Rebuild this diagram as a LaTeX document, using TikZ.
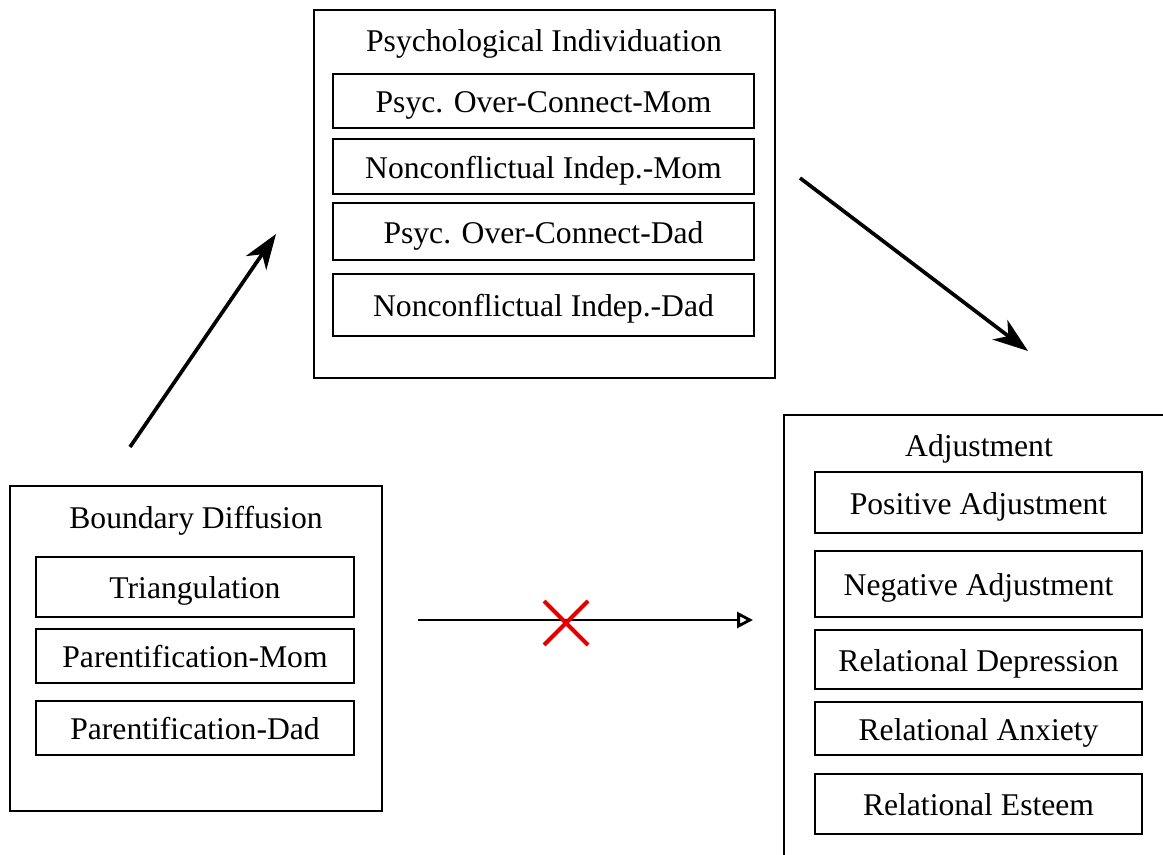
\documentclass[tikz,border=0pt]{standalone}
\usepackage{fontspec}
\setmainfont{Liberation Serif}
\usetikzlibrary{arrows.meta, calc}

\tikzset{
	outerbox/.style = {draw, line width=1.1pt},
	innerbox/.style = {draw, line width=1.1pt, inner sep=0pt, font=\fontsize{18}{20}\selectfont,
		text height=16pt, text depth=2.5pt},
	titletext/.style = {font=\fontsize{18}{20}\selectfont, text height=16pt, text depth=2.5pt},
	pathline/.style = {line width=2.1pt, -{Stealth[length=20pt, width=14pt, inset=6pt]}},
}

\begin{document}
\begin{tikzpicture}[x=0.02cm, y=-0.02cm]
	% 固定画面大小
	\useasboundingbox (0,0) rectangle (1163,855);
	\clip (0,0) rectangle (1163,855);

	% 心理个体化
	\draw[outerbox] (314,10) rectangle (775,378);
	\node[titletext] (pi) at (544,40) {Psychological Individuation};
	\node[innerbox, minimum width=421*0.02cm, minimum height=54*0.02cm] (pomom) at (543.5,101) {Psyc. Over-Connect-Mom};
	\node[innerbox, minimum width=421*0.02cm, minimum height=55*0.02cm] (nimom) at (543.5,166.5) {Nonconflictual Indep.-Mom};
	\node[innerbox, minimum width=421*0.02cm, minimum height=57*0.02cm] (podad) at (543.5,231.5) {Psyc. Over-Connect-Dad};
	\node[innerbox, minimum width=421*0.02cm, minimum height=62*0.02cm] (nidad) at (543.5,305) {Nonconflictual Indep.-Dad};

	% 边界扩散
	\draw[outerbox] (10,486) rectangle (382,811);
	\node[titletext] (bd) at (196,517) {Boundary Diffusion};
	\node[innerbox, minimum width=318*0.02cm, minimum height=60*0.02cm] (tri) at (195,587) {Triangulation};
	\node[innerbox, minimum width=318*0.02cm, minimum height=54*0.02cm] (pmom) at (195,656) {Parentification-Mom};
	\node[innerbox, minimum width=318*0.02cm, minimum height=54*0.02cm] (pdad) at (195,728) {Parentification-Dad};

	% 适应
	\draw[outerbox] (784,870) -- (784,415) -- (1175,415);
	\node[titletext] (adj) at (979,445) {Adjustment};
	\node[innerbox, minimum width=327*0.02cm, minimum height=61*0.02cm] (pos) at (978.5,502.5) {Positive Adjustment};
	\node[innerbox, minimum width=327*0.02cm, minimum height=66*0.02cm] (neg) at (978.5,584) {Negative Adjustment};
	\node[innerbox, minimum width=327*0.02cm, minimum height=59*0.02cm] (rdep) at (978.5,659.5) {Relational Depression};
	\node[innerbox, minimum width=327*0.02cm, minimum height=53*0.02cm] (ranx) at (978.5,728.5) {Relational Anxiety};
	\node[innerbox, minimum width=327*0.02cm, minimum height=60*0.02cm] (rest) at (978.5,804) {Relational Esteem};

	% 路径箭头
	\coordinate (a1) at (130,447);
	\coordinate (a2) at (276,234);
	\coordinate (b1) at (800,178);
	\coordinate (b2) at (1028,351);
	\coordinate (c1) at (418,620);
	\coordinate (c2) at (753,620);
	\draw[pathline] (a1) -- (a2);
	\draw[pathline] (b1) -- (b2);
	\draw[line width=1.6pt, -{Triangle[open, length=9pt, width=9pt]}] (c1) -- (c2);

	% 不显著路径(红叉)
	\coordinate (x) at (566,623);
	\draw[red!90!black, line width=2.3pt] ($(x)+(-22,-22)$) -- ($(x)+(22,22)$);
	\draw[red!90!black, line width=2.3pt] ($(x)+(-22,22)$) -- ($(x)+(22,-22)$);
\end{tikzpicture}
\end{document}
